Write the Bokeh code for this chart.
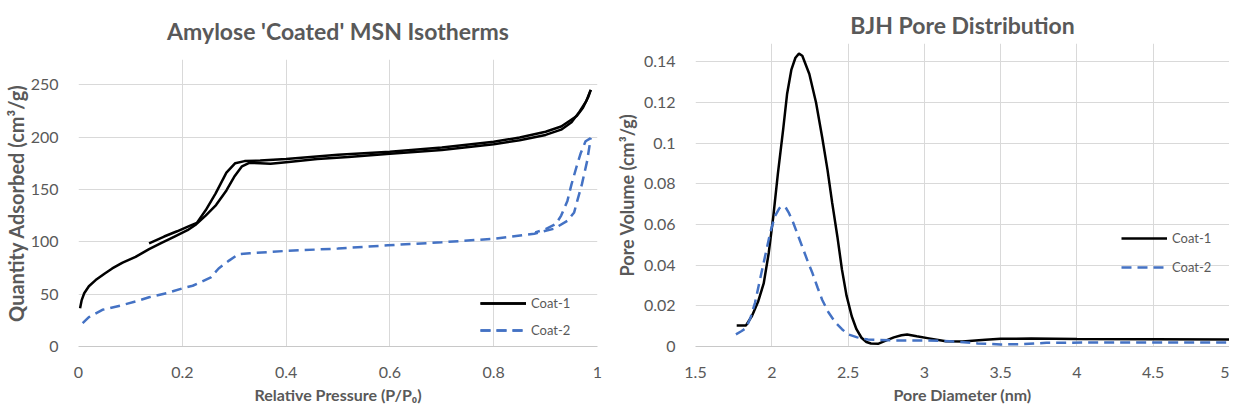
from bokeh.plotting import figure
from bokeh.layouts import row
from bokeh.models import FixedTicker, NumeralTickFormatter, Range1d
from bokeh.embed import file_html
from bokeh.resources import INLINE

# ---------------- Data: Amylose 'Coated' MSN isotherms ----------------
coat1_ads_p = [0.003, 0.006, 0.011, 0.02, 0.033, 0.05, 0.065, 0.085, 0.11, 0.136, 0.16, 0.185, 0.21,
               0.225, 0.245, 0.265, 0.285, 0.30, 0.315, 0.33, 0.35, 0.37, 0.40, 0.46, 0.52,
               0.60, 0.70, 0.80, 0.85, 0.90, 0.93, 0.95, 0.965, 0.978, 0.987]
coat1_ads_q = [36.6, 44, 50.8, 57.5, 63.4, 69.5, 74.5, 80, 85.5, 93, 99, 105, 111,
               116, 125, 135, 149, 162, 172, 175.5, 175, 174.5, 176, 179, 181,
               184, 187.5, 193, 197, 202, 207, 214, 224, 234, 245]
coat1_des_p = [0.987, 0.982, 0.972, 0.96, 0.948, 0.93, 0.90, 0.85, 0.80, 0.70, 0.60, 0.50,
               0.40, 0.35, 0.32, 0.302, 0.285, 0.264, 0.245, 0.228, 0.213, 0.19, 0.165, 0.136]
coat1_des_q = [245, 238, 228, 220, 216, 210, 205, 199.5, 195.5, 190, 186, 183,
               179, 177.5, 177, 175, 166, 146, 130, 118, 115, 110, 105, 98.5]

coat2_ads_p = [0.008, 0.02, 0.046, 0.08, 0.11, 0.136, 0.17, 0.2, 0.22, 0.238, 0.255, 0.27,
               0.29, 0.308, 0.33, 0.398, 0.50, 0.596, 0.70, 0.80, 0.878, 0.916, 0.942,
               0.955, 0.961, 0.97, 0.98, 0.987]
coat2_ads_q = [22.4, 28, 35, 39, 43, 47, 51, 55.5, 58, 61.9, 66, 74.5,
               82, 88, 89, 91.2, 93.5, 96.6, 99.5, 102.9, 107.7, 112.4, 120,
               128, 139, 155, 177, 199]
coat2_des_p = [0.987, 0.977, 0.968, 0.961, 0.95, 0.942, 0.93, 0.92, 0.90, 0.88]
coat2_des_q = [199, 196, 185, 174, 155, 139, 125, 117, 112, 109]

# ---------------- Data: BJH pore distribution ----------------
coat1_d = [1.77, 1.83, 1.87, 1.91, 1.947, 1.98, 2.01, 2.04, 2.075, 2.10, 2.128, 2.155, 2.178,
           2.20, 2.246, 2.29, 2.33, 2.365, 2.396, 2.43, 2.46, 2.49, 2.524, 2.555, 2.588,
           2.62, 2.65, 2.70, 2.735, 2.80, 2.85, 2.887, 2.95, 3.03, 3.14, 3.25, 3.40,
           3.50, 3.70, 4.00, 4.50, 5.00]
coat1_v = [0.0103, 0.0103, 0.015, 0.022, 0.031, 0.046, 0.064, 0.085, 0.107, 0.124, 0.136, 0.142, 0.144,
           0.143, 0.134, 0.12, 0.103, 0.087, 0.0706, 0.054, 0.0378, 0.025, 0.0149, 0.0085, 0.0043,
           0.0022, 0.0015, 0.0014, 0.0025, 0.0045, 0.0055, 0.0059, 0.005, 0.004, 0.0026, 0.0025, 0.0033,
           0.0038, 0.0039, 0.0037, 0.0036, 0.0035]

coat2_d = [1.765, 1.80, 1.83, 1.86, 1.89, 1.92, 1.955, 1.99, 2.02, 2.05, 2.07, 2.09, 2.11,
           2.14, 2.17, 2.20, 2.235, 2.267, 2.30, 2.33, 2.37, 2.417, 2.46, 2.50, 2.56,
           2.63, 2.80, 3.00, 3.20, 3.35, 3.50, 3.65, 3.80, 4.20, 4.60, 5.00]
coat2_v = [0.006, 0.0075, 0.009, 0.014, 0.0215, 0.032, 0.044, 0.056, 0.064, 0.068, 0.069, 0.0685, 0.066,
           0.061, 0.055, 0.049, 0.042, 0.036, 0.029, 0.023, 0.017, 0.0118, 0.0085, 0.006, 0.0045,
           0.0034, 0.003, 0.003, 0.0025, 0.0015, 0.001, 0.0012, 0.0018, 0.002, 0.002, 0.002]

# tick positions
iso_xticks = [0, 0.2, 0.4, 0.6, 0.8, 1.0]
iso_yticks = [0, 50, 100, 150, 200, 250]
bjh_xticks = [1.5, 2, 2.5, 3, 3.5, 4, 4.5, 5]
bjh_yticks = [0, 0.02, 0.04, 0.06, 0.08, 0.1, 0.12, 0.14]

BLACK = "#000000"
BLUE = "#4472C4"
GREY_TXT = "#595959"
GRID = "#d9d9d9"
FONT = "Lato"


def style(p, xticks, yticks, xfmt, yfmt):
    p.frame_align = False
    p.outline_line_color = None
    p.background_fill_color = "white"
    p.border_fill_color = "white"
    p.xaxis.ticker = FixedTicker(ticks=xticks)
    p.yaxis.ticker = FixedTicker(ticks=yticks)
    p.xaxis.formatter = NumeralTickFormatter(format=xfmt)
    p.yaxis.formatter = NumeralTickFormatter(format=yfmt)
    for ax in (p.xaxis[0], p.yaxis[0]):
        ax.major_tick_line_color = None
        ax.minor_tick_line_color = None
        ax.major_label_text_font = FONT
        ax.major_label_text_font_size = "16px"
        ax.major_label_text_color = GREY_TXT
        ax.axis_label_text_font = FONT
        ax.axis_label_text_font_style = "bold"
        ax.axis_label_text_color = GREY_TXT
    p.xaxis.axis_line_color = "#c8c8c8"
    p.yaxis.axis_line_color = None
    p.xaxis.axis_label_text_font_size = "16px"
    p.xaxis.major_label_standoff = 14
    p.yaxis.major_label_standoff = 14
    p.xaxis.axis_label_standoff = 4
    p.xgrid.grid_line_color = GRID
    p.ygrid.grid_line_color = GRID
    p.xgrid.ticker = FixedTicker(ticks=xticks)
    p.ygrid.ticker = FixedTicker(ticks=yticks)
    p.title.text_font = FONT
    p.title.text_font_style = "bold"
    p.title.text_font_size = "23px"
    p.title.text_color = GREY_TXT
    p.title.align = "center"


# ---------------- Left: isotherms ----------------
p1 = figure(width=612, height=407, output_backend="svg", toolbar_location=None,
            title="Amylose 'Coated' MSN Isotherms",
            x_range=Range1d(0, 1), y_range=Range1d(0, 274),
            x_axis_label="Relative Pressure (P/P\u2080)",
            y_axis_label="Quantity Adsorbed (cm\u00b3/g)",
            min_border_left=68, min_border_right=15, min_border_top=58, min_border_bottom=61)
style(p1, iso_xticks, iso_yticks, "0.[0]", "0")
p1.title.standoff = 29
p1.yaxis.axis_label_text_font_size = "20px"
p1.yaxis.axis_label_standoff = 0

p1.line(coat1_ads_p, coat1_ads_q, line_color=BLACK, line_width=2.5, legend_label="Coat-1")
p1.line(coat1_des_p, coat1_des_q, line_color=BLACK, line_width=2.5, legend_label="Coat-1")
p1.line(coat2_ads_p, coat2_ads_q, line_color=BLUE, line_width=2.5, line_dash="10 6", legend_label="Coat-2")
p1.line(coat2_des_p, coat2_des_q, line_color=BLUE, line_width=2.5, line_dash="10 6", legend_label="Coat-2")

# ---------------- Right: BJH ----------------
p2 = figure(width=617, height=407, output_backend="svg", toolbar_location=None,
            title="BJH Pore Distribution",
            x_range=Range1d(1.5, 5), y_range=Range1d(0, 0.149),
            x_axis_label="Pore Diameter (nm)",
            y_axis_label="Pore Volume (cm\u00b3/g)",
            min_border_left=77, min_border_right=0, min_border_top=43, min_border_bottom=61)
style(p2, bjh_xticks, bjh_yticks, "0.[0]", "0.[00]")
p2.title.standoff = 10
p2.yaxis.axis_label_text_font_size = "18px"
p2.yaxis.axis_label_standoff = 3

p2.line(coat1_d, coat1_v, line_color=BLACK, line_width=2.5, legend_label="Coat-1")
p2.line(coat2_d, coat2_v, line_color=BLUE, line_width=2.5, line_dash="10 6", legend_label="Coat-2")

for p, loc, sp in ((p1, (402, 6), 7), (p2, (426, 69), 9)):
    lg = p.legend[0]
    lg.location = loc
    lg.border_line_color = None
    lg.background_fill_alpha = 0
    lg.padding = 0
    lg.margin = 0
    lg.spacing = sp
    lg.glyph_width = 46
    lg.glyph_height = 20
    lg.label_height = 20
    lg.label_standoff = 5
    lg.label_text_font = FONT
    lg.label_text_font_size = "13px"
    lg.label_text_color = GREY_TXT

layout = row(p1, p2)
open("out.html", "w").write(file_html(layout, INLINE))
